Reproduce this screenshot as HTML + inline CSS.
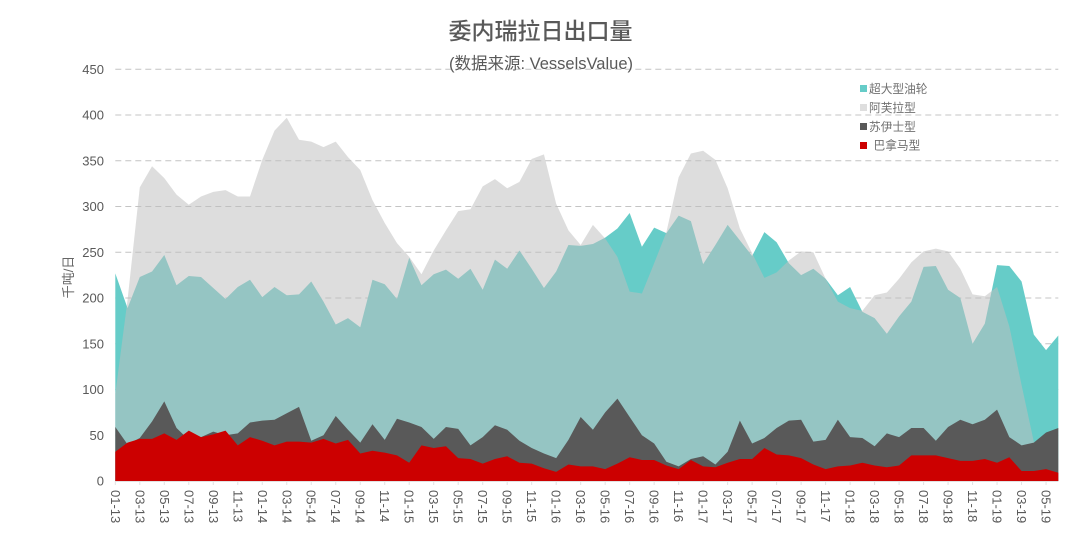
<!DOCTYPE html>
<html lang="zh">
<head>
<meta charset="utf-8">
<title>委内瑞拉日出口量</title>
<style>
html,body{margin:0;padding:0;background:#fff;}
body{width:1080px;height:538px;overflow:hidden;}
svg{display:block;font-family:"Liberation Sans","Noto Sans CJK SC",sans-serif;}
</style>
</head>
<body>
<svg id="chart" xmlns="http://www.w3.org/2000/svg" width="1080" height="538" viewBox="0 0 1080 538">
  <rect x="0" y="0" width="1080" height="538" fill="#ffffff"/>
  <g id="grid"></g>
  <g id="areas"></g>
  <g id="xaxis"></g>
  <g id="yaxis"></g>
  <text x="540.5" y="39" text-anchor="middle" font-size="23" font-weight="500" fill="#595959" font-family="'Noto Sans CJK SC',sans-serif">委内瑞拉日出口量</text>
  <text x="541" y="69" text-anchor="middle" font-size="16.5" fill="#595959" font-family="'Liberation Sans','Noto Sans CJK SC',sans-serif">(数据来源: VesselsValue)</text>
  <text transform="translate(73,277) rotate(-90)" text-anchor="middle" font-size="13" fill="#666666">千吨/日</text>
  <g font-size="11.7" fill="#707070">
    <g>
      <rect x="860" y="85" width="7" height="7" fill="#66ccc8"/>
      <text x="869" y="93">超大型油轮</text>
    </g>
    <g>
      <rect x="860" y="104" width="7" height="7" fill="#dedede"/>
      <text x="869" y="112">阿芙拉型</text>
    </g>
    <g>
      <rect x="860" y="123" width="7" height="7" fill="#595959"/>
      <text x="869" y="131">苏伊士型</text>
    </g>
    <g>
      <rect x="860" y="142" width="7" height="7" fill="#cc0000"/>
      <text x="873.5" y="149.5">巴拿马型</text>
    </g>
  </g>
</svg>
<script>
const categories = [
"01-13","02-13","03-13","04-13","05-13","06-13","07-13","08-13","09-13","10-13","11-13","12-13",
"01-14","02-14","03-14","04-14","05-14","06-14","07-14","08-14","09-14","10-14","11-14","12-14",
"01-15","02-15","03-15","04-15","05-15","06-15","07-15","08-15","09-15","10-15","11-15","12-15",
"01-16","02-16","03-16","04-16","05-16","06-16","07-16","08-16","09-16","10-16","11-16","12-16",
"01-17","02-17","03-17","04-17","05-17","06-17","07-17","08-17","09-17","10-17","11-17","12-17",
"01-18","02-18","03-18","04-18","05-18","06-18","07-18","08-18","09-18","10-18","11-18","12-18",
"01-19","02-19","03-19","04-19","05-19","06-19"];
const vlcc = [227,189,223,229,247,214,224,223,211,199,212,220,201,212,203,204,218,196,171,178,168,220,215,199,244,214,226,231,221,232,209,242,232,252,232,211,229,258,257,259,266,276,293,256,277,271,290,284,237,258,280,263,246,272,261,238,225,232,221,203,212,185,178,161,180,196,234,235,209,200,150,172,236,235,218,160,143,159];
const aframax = [95,198,321,344,331,313,302,311,316,318,311,311,351,383,397,373,371,365,371,354,340,307,282,260,245,226,252,274,295,297,322,330,320,327,352,357,303,274,258,280,265,245,207,205,238,272,332,358,361,351,320,276,249,222,228,241,251,250,221,196,189,186,203,206,221,239,251,254,251,232,204,202,212,169,105,43,30,25];
const suezmax = [59,40,47,65,87,58,45,48,54,50,52,64,66,67,74,81,44,50,71,56,42,62,45,68,64,59,46,59,57,39,48,61,56,44,36,30,25,45,70,56,75,90,70,50,41,21,16,24,27,18,32,66,41,47,58,66,67,43,45,67,48,47,38,52,48,58,58,44,59,67,62,67,78,48,39,42,53,58];
const panamax = [32,42,46,46,52,45,55,48,51,55,39,48,44,39,43,43,42,46,41,45,30,33,31,28,20,39,36,38,25,24,19,24,27,20,19,14,10,18,16,16,13,19,26,23,23,17,13,23,16,15,20,24,24,36,29,28,25,18,13,16,17,20,17,15,17,28,28,28,25,22,22,24,20,26,11,11,13,9];
const yTicks = [0,50,100,150,200,250,300,350,400,450];

const NS = "http://www.w3.org/2000/svg";
const plotLeft = 115.3, plotRight = 1058.3, plotBottom = 481, plotTop = 69.3, yMax = 450;
function xScale(i){ return plotLeft + i * (plotRight - plotLeft) / (categories.length - 1); }
function yScale(v){ return plotBottom - v * (plotBottom - plotTop) / yMax; }
function make(tag, attrs, parent){
  const el = document.createElementNS(NS, tag);
  for (const k in attrs) el.setAttribute(k, attrs[k]);
  parent.appendChild(el);
  return el;
}
const gridG = document.getElementById("grid");
const areasG = document.getElementById("areas");
const xG = document.getElementById("xaxis");
const yG = document.getElementById("yaxis");

yTicks.forEach(function(t){
  if (t > 0) {
    const line = make("line", {x1:plotLeft, x2:plotRight, y1:yScale(t), y2:yScale(t), stroke:"#c4c4c4", "stroke-width":1, "stroke-dasharray":"6 4"}, gridG);
    
    
  }
  const label = make("text", {x:104, y:yScale(t)+4.5, "text-anchor":"end", "font-size":13, fill:"#595959"}, yG);
  
  
  label.textContent = t;
});

function drawArea(values, fill, opacity, name){
  let d = "M" + xScale(0) + " " + yScale(0);
  values.forEach(function(v, i){ d += "L" + xScale(i).toFixed(2) + " " + yScale(v).toFixed(2); });
  d += "L" + xScale(values.length - 1) + " " + yScale(0) + "Z";
  const p = make("path", {d:d, fill:fill, "fill-opacity":opacity}, areasG);
  
  
}
drawArea(vlcc, "#66ccc8", 1, "area-vlcc");
drawArea(aframax, "#bebebe", 0.53, "area-aframax");
drawArea(suezmax, "#595959", 1, "area-suezmax");
drawArea(panamax, "#cc0000", 1, "area-panamax");

const axisLine = make("line", {x1:plotLeft, x2:plotRight, y1:plotBottom+0.5, y2:plotBottom+0.5, stroke:"#e2e2e2", "stroke-width":1}, xG);



categories.forEach(function(c, i){
  if (i % 2 !== 0) return;
  const x = xScale(i);
  const tick = make("line", {x1:x, x2:x, y1:plotBottom, y2:plotBottom+4, stroke:"#e2e2e2", "stroke-width":1}, xG);
  
  
  const label = make("text", {transform:"translate(" + (x-4.5) + ",490) rotate(90)", "font-size":13, fill:"#595959"}, xG);
  
  
  label.textContent = c;
});
</script>
</body>
</html>
